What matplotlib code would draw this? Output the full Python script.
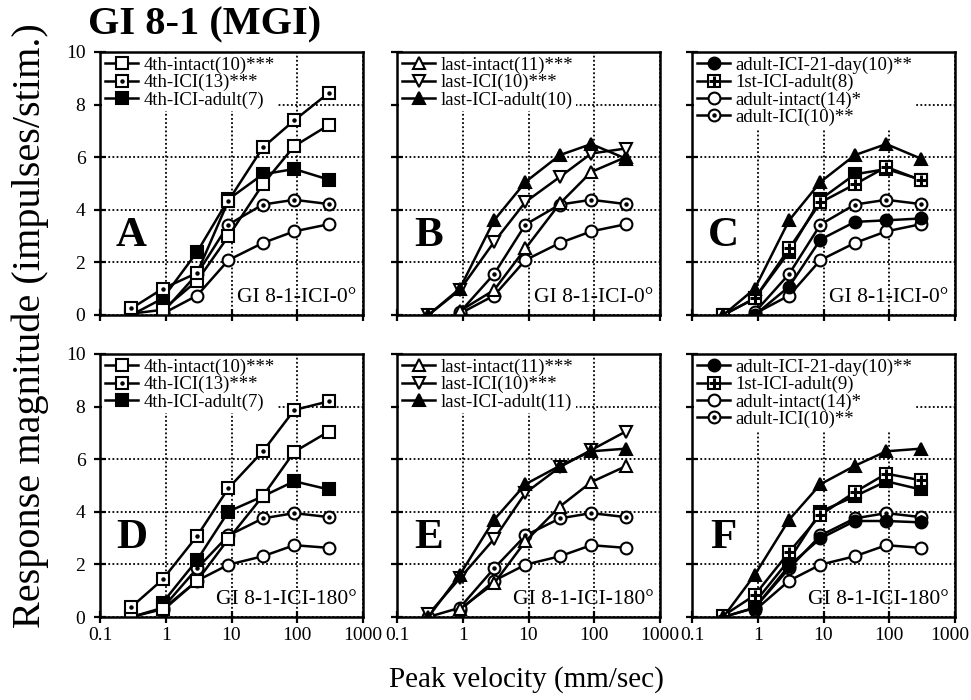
import numpy as np
import matplotlib
matplotlib.use("Agg")
import matplotlib.pyplot as plt
from matplotlib.transforms import ScaledTranslation

plt.rcParams['font.family'] = ['Liberation Serif', 'DejaVu Serif']

nan = np.nan

# peak velocity (mm/sec)
velocity = [0.3, 0.9, 3, 9, 30, 90, 300]

# ICI-0 deg (top row)
fourth_intact_0 = [0.05, 0.2, 1.3, 3.0, 4.97, 6.42, 7.22]
fourth_ici_0 = [0.25, 1.0, 1.6, 4.35, 6.37, 7.4, 8.44]
fourth_adult_0 = [0.0, 0.63, 2.4, 4.4, 5.35, 5.55, 5.15]
last_intact_0 = [nan, 0.15, 0.95, 2.53, 4.24, 5.44, 6.0]
last_ici_0 = [0.0, 0.95, 2.78, 4.3, 5.25, 6.14, 6.33]
last_adult_0 = [0.0, 1.0, 3.6, 5.06, 6.08, 6.5, 5.95]
adult21_0 = [nan, 0.0, 1.08, 2.87, 3.54, 3.6, 3.67]
first_adult_0 = [0.0, 0.63, 2.53, 4.28, 4.97, 5.63, 5.13]
adult_intact_0 = [nan, 0.05, 0.74, 2.09, 2.74, 3.18, 3.45]
adult_ici_0 = [nan, 0.1, 1.56, 3.44, 4.2, 4.38, 4.22]

# ICI-180 deg (bottom row)
fourth_intact_180 = [0.0, 0.3, 1.38, 2.97, 4.6, 6.28, 7.05]
fourth_ici_180 = [0.38, 1.43, 3.08, 4.9, 6.3, 7.87, 8.2]
fourth_adult_180 = [nan, 0.55, 2.17, 4.01, 4.59, 5.16, 4.85]
last_intact_180 = [nan, 0.3, 1.28, 2.88, 4.2, 5.13, 5.73]
last_ici_180 = [0.1, 1.47, 2.97, 4.72, 5.7, 6.35, 7.05]
last_adult_180 = [0.0, 1.6, 3.7, 5.05, 5.75, 6.3, 6.4]
adult21_180 = [0.0, 0.35, 1.95, 2.99, 3.65, 3.65, 3.6]
first_adult_180 = [0.05, 0.83, 2.47, 3.88, 4.75, 5.45, 5.2]
adult_intact_180 = [nan, 0.25, 1.38, 1.99, 2.31, 2.73, 2.63]
adult_ici_180 = [0.0, 0.35, 1.85, 3.1, 3.75, 3.95, 3.8]

xticks = [0.1, 1, 10, 100, 1000]
xticklabels = ['0.1', '1', '10', '100', '1000']
yticks = [0, 2, 4, 6, 8, 10]

MS = 8.5
MEW = 1.5
LW = 1.8


def draw(ax, y, kind):
    # returns a tuple of lines so the legend can overlay them
    base = dict(color='black', lw=LW, ms=MS, mew=MEW, mec='black')
    if kind == 'open_sq':
        l = ax.plot(velocity, y, marker='s', mfc='white', **base)
        return tuple(l)
    if kind == 'fill_sq':
        l = ax.plot(velocity, y, marker='s', mfc='black', **base)
        return tuple(l)
    if kind == 'dot_sq':
        l = ax.plot(velocity, y, marker='s', mfc='white', **base)
        d = ax.plot(velocity, y, ls='none', marker='o', ms=2.2, mfc='black', mec='black')
        return (l[0], d[0])
    if kind == 'grid_sq':
        l = ax.plot(velocity, y, marker='s', mfc='white', **base)
        d = ax.plot(velocity, y, ls='none', marker='+', ms=MS - 1, mew=2.2, color='black')
        return (l[0], d[0])
    if kind == 'open_c':
        l = ax.plot(velocity, y, marker='o', mfc='white', **base)
        return tuple(l)
    if kind == 'fill_c':
        l = ax.plot(velocity, y, marker='o', mfc='black', **base)
        return tuple(l)
    if kind == 'dot_c':
        l = ax.plot(velocity, y, marker='o', mfc='white', **base)
        d = ax.plot(velocity, y, ls='none', marker='o', ms=2.2, mfc='black', mec='black')
        return (l[0], d[0])
    if kind == 'up_tri':
        l = ax.plot(velocity, y, marker='^', mfc='white', **base)
        return tuple(l)
    if kind == 'down_tri':
        l = ax.plot(velocity, y, marker='v', mfc='white', **base)
        return tuple(l)
    if kind == 'fill_tri':
        l = ax.plot(velocity, y, marker='^', mfc='black', **base)
        return tuple(l)


fig = plt.figure(figsize=(9.71, 7.0), dpi=100)

col_left = [100 / 971, 397 / 971, 692 / 971]
col_w = 263 / 971
row_bottom = [1 - 315 / 700, 1 - 617 / 700]
row_h = 263 / 700

letters = [['A', 'B', 'C'], ['D', 'E', 'F']]
tags = ['GI 8-1-ICI-0°', 'GI 8-1-ICI-180°']

rows = [
    dict(fi=fourth_intact_0, fc=fourth_ici_0, fa=fourth_adult_0, li=last_intact_0,
         lc=last_ici_0, la=last_adult_0, a21=adult21_0, fst=first_adult_0,
         ai=adult_intact_0, ac=adult_ici_0, n1='8', n2='10'),
    dict(fi=fourth_intact_180, fc=fourth_ici_180, fa=fourth_adult_180, li=last_intact_180,
         lc=last_ici_180, la=last_adult_180, a21=adult21_180, fst=first_adult_180,
         ai=adult_intact_180, ac=adult_ici_180, n1='9', n2='11'),
]

for r in range(2):
    d = rows[r]
    for c in range(3):
        ax = fig.add_axes([col_left[c], row_bottom[r], col_w, row_h])
        ax.set_xscale('log')
        ax.set_xlim(0.1, 1000)
        ax.set_ylim(0, 10)

        if c == 0:
            draw(ax, d['ai'], 'open_c')
            draw(ax, d['ac'], 'dot_c')
            h3 = draw(ax, d['fa'], 'fill_sq')
            h1 = draw(ax, d['fi'], 'open_sq')
            h2 = draw(ax, d['fc'], 'dot_sq')
            handles = [h1, h2, h3]
            labels = ['4th-intact(10)***', '4th-ICI(13)***', '4th-ICI-adult(7)']
        elif c == 1:
            draw(ax, d['ai'], 'open_c')
            draw(ax, d['ac'], 'dot_c')
            h1 = draw(ax, d['li'], 'up_tri')
            h2 = draw(ax, d['lc'], 'down_tri')
            h3 = draw(ax, d['la'], 'fill_tri')
            handles = [h1, h2, h3]
            labels = ['last-intact(11)***', 'last-ICI(10)***',
                      'last-ICI-adult(' + d['n2'] + ')']
        else:
            h3 = draw(ax, d['ai'], 'open_c')
            h4 = draw(ax, d['ac'], 'dot_c')
            h1 = draw(ax, d['a21'], 'fill_c')
            draw(ax, d['fa'], 'fill_sq')
            h2 = draw(ax, d['fst'], 'grid_sq')
            draw(ax, d['la'], 'fill_tri')
            handles = [h1, h2, h3, h4]
            labels = ['adult-ICI-21-day(10)**', '1st-ICI-adult(' + d['n1'] + ')',
                      'adult-intact(14)*', 'adult-ICI(10)**']

        leg = ax.legend(handles, labels, loc='upper left', fontsize=13.5,
                        frameon=True, framealpha=1, fancybox=False,
                        borderaxespad=0.1, borderpad=0.15, labelspacing=0.0,
                        handlelength=1.8, handletextpad=0.25)
        leg.get_frame().set_edgecolor('white')
        leg.get_frame().set_linewidth(0)
        leg.set_zorder(5)

        ax.set_xticks(xticks)
        ax.minorticks_off()
        ax.set_yticks(yticks)
        if r == 1:
            ax.set_xticklabels(xticklabels)
        else:
            ax.set_xticklabels([])
        if c != 0:
            ax.set_yticklabels([])

        ax.tick_params(direction='inout', length=9, width=1.6,
                       color='black', pad=3)
        ax.tick_params(axis='x', labelsize=14)
        ax.tick_params(axis='y', pad=6, labelsize=14)
        ax.grid(True, linestyle=(0, (1, 1.3)), color='black', linewidth=1.3)
        ax.set_axisbelow(True)
        for s in ax.spines.values():
            s.set_linewidth(1.8)

        # keep the last "1000" inside the figure
        if r == 1 and c == 2:
            lab = ax.get_xticklabels()[-1]
            lab.set_transform(lab.get_transform() +
                              ScaledTranslation(-4 / 72, 0, fig.dpi_scale_trans))

        ax.text(0.12, 0.3, letters[r][c], transform=ax.transAxes, fontsize=31,
                fontweight='bold', ha='center', va='center', zorder=6)
        ax.text(0.975, 0.03, tags[r], transform=ax.transAxes, fontsize=15.5,
                ha='right', va='bottom', zorder=6)

fig.text(88 / 971, 1 - 34 / 700, 'GI 8-1 (MGI)', fontsize=29, fontweight='bold',
         ha='left', va='baseline')
fig.text(30 / 971, 0.535, 'Response magnitude (impulses/stim.)', fontsize=29,
         rotation=90, ha='center', va='center')
fig.text(526 / 971, 1 - 680 / 700, 'Peak velocity (mm/sec)', fontsize=21,
         ha='center', va='center')

fig.savefig('out.png', dpi=100, facecolor='white')
